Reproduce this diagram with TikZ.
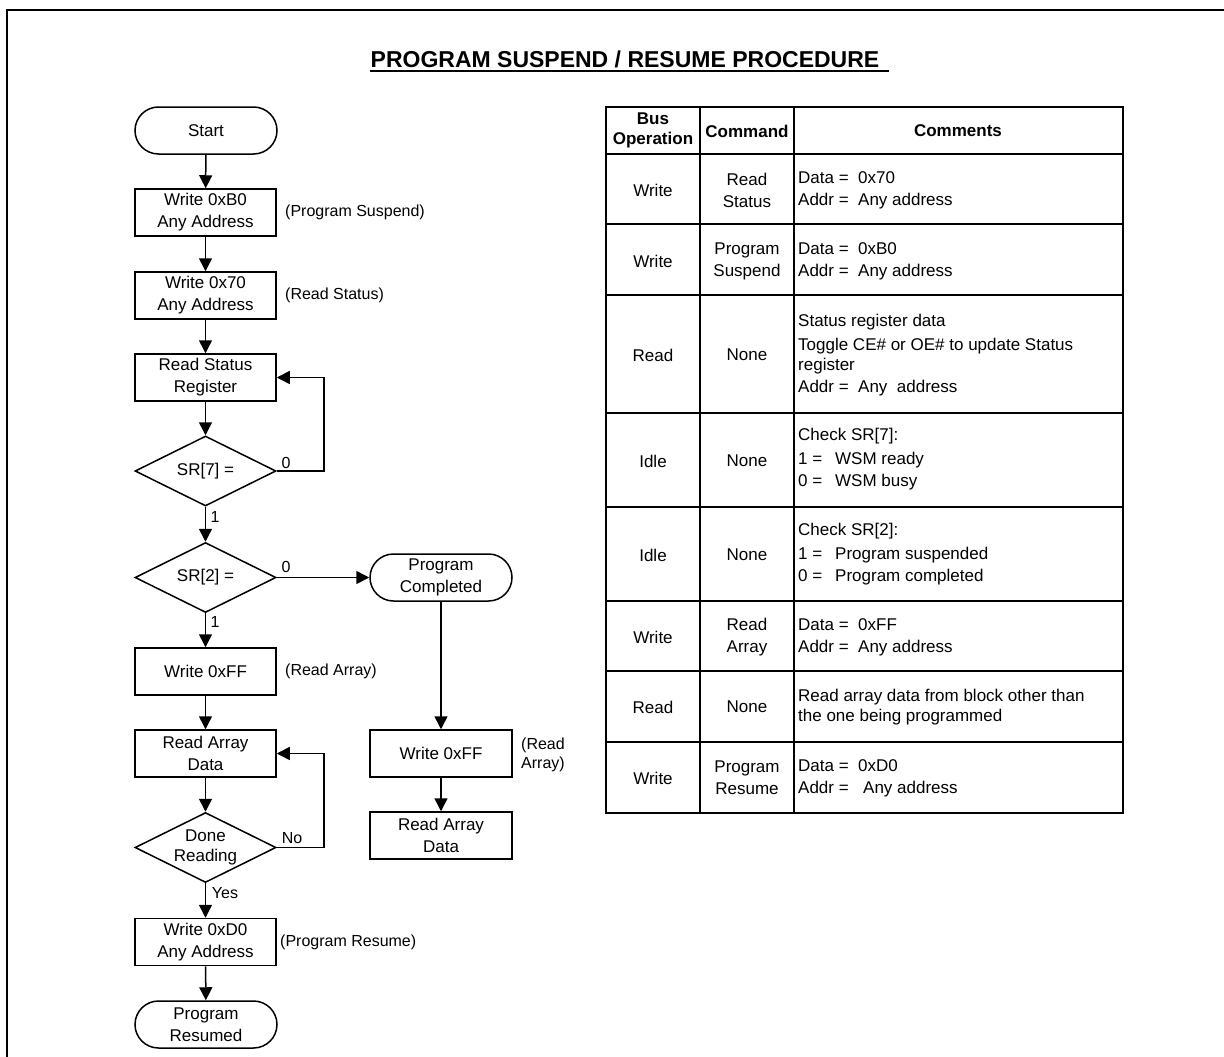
\documentclass[tikz,border=0pt]{standalone}
\usepackage{fontspec}
\setmainfont{Liberation Sans}
\usetikzlibrary{shapes.geometric,arrows.meta}
\begin{document}
\begin{tikzpicture}[x=1pt,y=-1pt,
  txt/.style={font=\fontsize{17}{22}\selectfont, align=center},
  proc/.style={draw, line width=1.5pt, rectangle, minimum width=141pt, minimum height=47pt, inner sep=0pt, txt},
  term/.style={proc, rounded corners=23.5pt, minimum width=142pt},
  dec/.style={draw, line width=1.5pt, diamond, minimum width=141pt, minimum height=70pt, inner sep=0pt, aspect=2},
  arr/.style={line width=1.5pt, -{Triangle[length=13pt,width=13pt]}},
  side/.style={font=\fontsize{16}{19}\selectfont, anchor=west, align=left, inner sep=0pt},
  br/.style={font=\fontsize{16}{19}\selectfont, inner sep=0pt},
  tline/.style={line width=2pt},
  cell/.style={font=\fontsize{17}{22}\selectfont, align=center, inner sep=0pt},
  cmt/.style={font=\fontsize{17}{22}\selectfont, align=left, anchor=west, inner sep=0pt},
  hdr/.style={font=\fontsize{17}{20}\selectfont\bfseries, align=center, inner sep=0pt}
]
\useasboundingbox (0,0) rectangle (1224,1057);
\fill[white] (0,0) rectangle (1224,1057);
% outer frame
\draw[line width=2.5pt] (7,1065) -- (7,10) -- (1232,10);

% title
\node[font=\fontsize{23}{28}\selectfont\bfseries, anchor=base, inner sep=0pt] (title) at (625,67) {PROGRAM SUSPEND / RESUME PROCEDURE};
\draw[line width=1.8pt] ([yshift=-4pt]title.base west) -- ([xshift=9pt,yshift=-4pt]title.base east);

% flowchart left column
\node[term] (start) at (206,130.5) {Start};
\node[proc] (b1) at (205.5,212.5) {Write 0xB0\\Any Address};
\node[proc] (b2) at (205.5,295.5) {Write 0x70\\Any Address};
\node[proc] (rsr) at (205.5,377.5) {Read Status\\Register};
\node[dec, label={[txt]center:{SR[7] =}}] (d7) at (205.5,471) {};
\node[dec, label={[txt]center:{SR[2] =}}] (d2) at (205.5,577.5) {};
\node[proc] (wff) at (205.5,671.5) {Write 0xFF};
\node[proc] (rad) at (205.5,753.5) {Read Array\\Data};
\node[dec, label={[txt, font=\fontsize{17}{20}\selectfont]center:{Done\\Reading}}] (dr) at (205.5,847.5) {};
\node[proc] (wd0) at (205.5,942) {Write 0xD0\\Any Address};
\node[term] (pres) at (206,1024.5) {Program\\Resumed};

% right column
\node[term] (pc) at (441,577.5) {Program\\Completed};
\node[proc, minimum width=142pt] (wff2) at (441,753.5) {Write 0xFF};
\node[proc, minimum width=142pt] (rad2) at (441,835.5) {Read Array\\Data};

% side labels
\node[side] (s1) at (285,212) {(Program Suspend)};
\node[side] (s2) at (285,295) {(Read Status)};
\node[side] (s3) at (285,671) {(Read Array)};
\node[side] (s4) at (280,942) {(Program Resume)};
\node[side] (s5) at (521,755) {(Read\\Array)};

% connectors
\draw[arr] (start) -- (b1);
\draw[arr] (b1) -- (b2);
\draw[arr] (b2) -- (rsr);
\draw[arr] (rsr) -- (d7);
\draw[arr] (d7.east) -- ++(47,0) |- (rsr.east);
\draw[arr] (d7) -- (d2);
\draw[arr] (d2.east) -- (pc.west);
\draw[arr] (d2) -- (wff);
\draw[arr] (wff) -- (rad);
\draw[arr] (rad) -- (dr);
\draw[arr] (dr.east) -- ++(47,0) |- (rad.east);
\draw[arr] (dr) -- (wd0);
\draw[arr] (wd0) -- (pres);
\draw[arr] (pc) -- (wff2);
\draw[arr] (wff2) -- (rad2);

% branch labels
\node[br] (l7a) at (286,463) {0};
\node[br] (l7b) at (215,517) {1};
\node[br] (l2a) at (286,567) {0};
\node[br] (l2b) at (215,622) {1};
\node[br] (lno) at (292,838) {No};
\node[br] (lyes) at (225,893) {Yes};

% table
\draw[tline] (606,107) rectangle (1123,813);
\foreach \yy in {154,224,295,413,507,601,671,742}
  \draw[tline] (606,\yy) -- (1123,\yy);
\draw[tline] (700,107) -- (700,813);
\draw[tline] (794,107) -- (794,813);

\node[hdr] (h1) at (653,130) {Bus\\Operation};
\node[hdr] (h2) at (747,131) {Command};
\node[hdr] (h3) at (958,131) {Comments};

\node[cell] (r1a) at (653,190) {Write};
\node[cell] (r1b) at (747,190) {Read\\Status};
\node[cmt] (r1c) at (798,190) {\makebox[60pt][l]{Data =}0x70\\\makebox[60pt][l]{Addr =}Any address};

\node[cell] (r2a) at (653,261) {Write};
\node[cell] (r2b) at (747,261) {Program\\Suspend};
\node[cmt] (r2c) at (798,261) {\makebox[60pt][l]{Data =}0xB0\\\makebox[60pt][l]{Addr =}Any address};

\node[cell] (r3a) at (653,355) {Read};
\node[cell] (r3b) at (747,355) {None};
\node[cmt] (r3c) at (798,355) {Status register data\\[2pt]Toggle CE\# or OE\# to update Status\\[-2pt]register\\\makebox[60pt][l]{Addr =}Any\ \ address};

\node[cell] (r4a) at (653,461) {Idle};
\node[cell] (r4b) at (747,461) {None};
\node[cmt] (r4c) at (798,459.5) {Check SR[7]:\\[2pt]\makebox[37pt][l]{1 =}WSM ready\\\makebox[37pt][l]{0 =}WSM busy};

\node[cell] (r5a) at (653,555) {Idle};
\node[cell] (r5b) at (747,555) {None};
\node[cmt] (r5c) at (798,554) {Check SR[2]:\\[2pt]\makebox[37pt][l]{1 =}Program suspended\\\makebox[37pt][l]{0 =}Program completed};

\node[cell] (r6a) at (653,637) {Write};
\node[cell] (r6b) at (747,637) {Read\\Array};
\node[cmt] (r6c) at (798,637) {\makebox[60pt][l]{Data =}0xFF\\\makebox[60pt][l]{Addr =}Any address};

\node[cell] (r7a) at (653,707) {Read};
\node[cell] (r7b) at (747,707) {None};
\node[cmt, font=\fontsize{17}{20.5}\selectfont] (r7c) at (798,707) {Read array data from block other than\\the one being programmed};

\node[cell] (r8a) at (653,778) {Write};
\node[cell] (r8b) at (747,778) {Program\\Resume};
\node[cmt] (r8c) at (798,778) {\makebox[60pt][l]{Data =}0xD0\\\makebox[65pt][l]{Addr =}Any address};
\end{tikzpicture}
\end{document}
